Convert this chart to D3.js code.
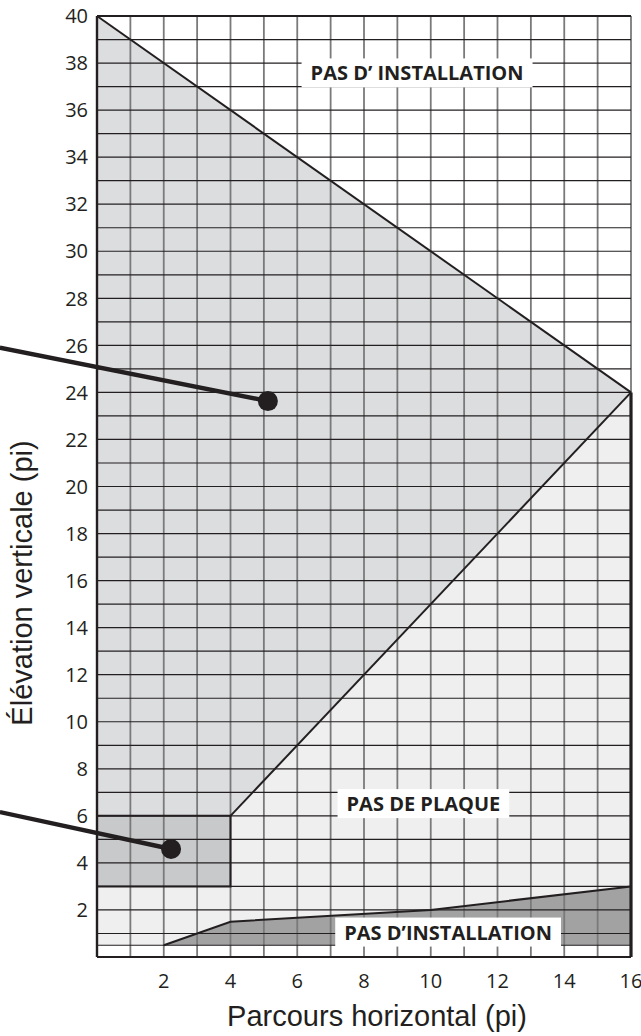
<!DOCTYPE html>
<html>
<head>
<meta charset="utf-8">
<script src="https://cdn.jsdelivr.net/npm/d3@7"></script>
<style>
  html, body { margin: 0; padding: 0; background: #fff; }
  svg { display: block; }
  .tick-label { font-family: "Open Sans", sans-serif; font-size: 20px; fill: #231f20; }
  .zone-label { font-family: "Open Sans", sans-serif; font-size: 20px; font-weight: 700; fill: #231f20; }
  .axis-title { font-family: "Liberation Sans", Arial, sans-serif; font-size: 29px; fill: #231f20; }
</style>
</head>
<body>
<svg id="chart" width="641" height="1036"></svg>
<script>
'use strict';

// ── Data (feet) ────────────────────────────────────────────────────────────
const xTicks = [2, 4, 6, 8, 10, 12, 14, 16];
const yTicks = [2, 4, 6, 8, 10, 12, 14, 16, 18, 20, 22, 24, 26, 28, 30, 32, 34, 36, 38, 40];

const xGrid = d3.range(0, 17);
const yGrid = [0, 0.5].concat(d3.range(1, 41));

// zones as polygons in (run, rise)
const upperZone   = [[0, 40], [16, 24], [4, 6], [0, 6]];
const plateBox    = [[0, 3], [4, 3], [4, 6], [0, 6]];
const noPlateZone = [[0, 0.5], [16, 0.5], [16, 24], [4, 6], [4, 3], [0, 3]];
const lowerZone   = [[2, 0.5], [4, 1.5], [10, 2], [16, 3], [16, 0.5]];

const upperEdge = [[0, 40], [16, 24]];
const diagEdge  = [[4, 6], [16, 24]];
const lowerEdge = [[2, 0.5], [4, 1.5], [10, 2], [16, 3]];

const zoneNames = ['PAS D\u2019 INSTALLATION', 'PAS DE PLAQUE', 'PAS D\u2019INSTALLATION'];
const zoneAt    = [[9.59, 37.58], [9.78, 6.52], [10.52, 1.06]];

// callouts: [from, dot]
const callouts = [
  [[-2.91, 25.9], [5.12, 23.63]],
  [[-2.91, 6.16], [2.22, 4.59]],
];

// ── Scales ─────────────────────────────────────────────────────────────────
const x = d3.scaleLinear().domain([0, 16]).range([97, 631]);
const y = d3.scaleLinear().domain([0, 40]).range([957, 16]);

const svg = d3.select('#chart');
const line = d3.line().x(d => x(d[0])).y(d => y(d[1]));
const poly = pts => line(pts) + 'Z';

// ── Zones ──────────────────────────────────────────────────────────────────
svg.append('path').attr('d', poly(noPlateZone)).attr('fill', '#efefef');
svg.append('path').attr('d', poly(upperZone)).attr('fill', '#dcdddf');
svg.append('path').attr('d', poly(plateBox)).attr('fill', '#c8c9cb');
svg.append('path').attr('d', poly(lowerZone)).attr('fill', '#a2a2a3');

// ── Grid ───────────────────────────────────────────────────────────────────
svg.append('g').selectAll('line')
  .data(xGrid)
  .join('line')
  .attr('x1', d => x(d)).attr('x2', d => x(d))
  .attr('y1', y(0)).attr('y2', y(40))
  .attr('stroke', '#7a7a7a')
  .attr('stroke-width', 1.8);

svg.append('g').selectAll('line')
  .data(yGrid)
  .join('line')
  .attr('x1', x(0)).attr('x2', x(16))
  .attr('y1', d => y(d)).attr('y2', d => y(d))
  .attr('stroke', '#231f20')
  .attr('stroke-width', 1.2);

// ── Frame & zone edges ─────────────────────────────────────────────────────
const edge = (pts, w) => svg.append('path')
  .attr('d', line(pts))
  .attr('fill', 'none')
  .attr('stroke', '#231f20')
  .attr('stroke-width', w)
  .attr('stroke-linejoin', 'miter');

edge([[0, 0], [0, 40]], 2.4);
edge([[0, 40], [16, 40]], 2.2);
edge([[0, 0], [16, 0]], 2);
edge([[16, 0], [16, 24]], 3.2);
edge(upperEdge, 2);
edge(diagEdge, 2);
edge(lowerEdge, 2);
svg.append('path').attr('d', poly(plateBox))
  .attr('fill', 'none').attr('stroke', '#231f20').attr('stroke-width', 2);

// ── Zone labels ────────────────────────────────────────────────────────────
zoneNames.forEach((name, i) => {
  const g = svg.append('g');
  const t = g.append('text')
    .attr('class', 'zone-label')
    .attr('x', x(zoneAt[i][0]))
    .attr('y', y(zoneAt[i][1]))
    .attr('text-anchor', 'middle')
    .attr('dominant-baseline', 'central')
    .text(name);
  const bb = t.node().getBBox();
  g.insert('rect', 'text')
    .attr('x', bb.x - 9).attr('y', y(zoneAt[i][1]) - 14.5)
    .attr('width', bb.width + 18).attr('height', 29)
    .attr('fill', '#fff');
});

// ── Callouts ───────────────────────────────────────────────────────────────
callouts.forEach(c => {
  svg.append('path').attr('d', line(c))
    .attr('stroke', '#231f20').attr('stroke-width', 4.4).attr('fill', 'none');
  svg.append('circle')
    .attr('cx', x(c[1][0])).attr('cy', y(c[1][1])).attr('r', 10)
    .attr('fill', '#231f20');
});

// ── Tick labels ────────────────────────────────────────────────────────────
svg.append('g').selectAll('text')
  .data(yTicks)
  .join('text')
  .attr('class', 'tick-label')
  .attr('x', 88)
  .attr('y', d => y(d))
  .attr('dy', '0.36em')
  .attr('text-anchor', 'end')
  .text(d => d);

svg.append('g').selectAll('text')
  .data(xTicks)
  .join('text')
  .attr('class', 'tick-label')
  .attr('x', d => x(d))
  .attr('y', 988)
  .attr('text-anchor', 'middle')
  .text(d => d);

// ── Axis titles ────────────────────────────────────────────────────────────
svg.append('text')
  .attr('class', 'axis-title')
  .attr('x', 377).attr('y', 1026)
  .attr('text-anchor', 'middle')
  .text('Parcours horizontal (pi)');

svg.append('text')
  .attr('class', 'axis-title')
  .attr('transform', 'translate(32,583) rotate(-90)')
  .attr('text-anchor', 'middle')
  .text('Élévation verticale (pi)');
</script>
</body>
</html>
